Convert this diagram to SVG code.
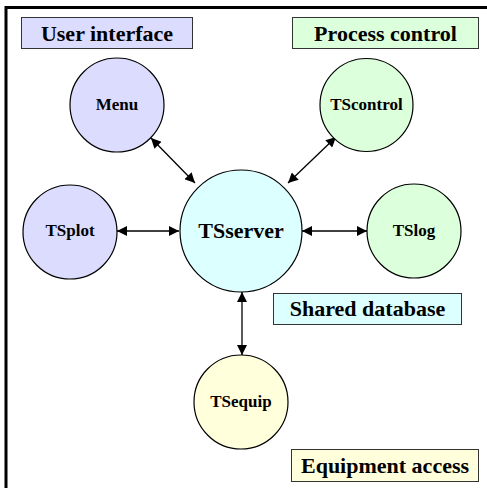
<svg xmlns="http://www.w3.org/2000/svg" width="487" height="488" viewBox="0 0 487 488">
<style>
text{font-family:"Liberation Serif","Times New Roman",serif;font-weight:bold;fill:#000;text-anchor:middle}
.node circle{stroke:#000;stroke-width:1.2}
.lbl rect{stroke:#333;stroke-width:1}
.lbl text{font-size:22px}
.node text{font-size:17px}
.conn line{stroke:#000;stroke-width:1.3;marker-start:url(#ah);marker-end:url(#ah)}
</style>
<defs>
<marker id="ah" viewBox="0 0 10 10" refX="10" refY="5" markerWidth="12" markerHeight="10" markerUnits="userSpaceOnUse" orient="auto-start-reverse">
<path d="M0,0 L10,5 L0,10 z" fill="#000"/>
</marker>
</defs>
<rect width="487" height="488" fill="#fff"/>
<path d="M6,488 V7.5 H487" fill="none" stroke="#000" stroke-width="3"/>
<g id="label-ui" class="lbl"><rect x="21.5" y="17.5" width="171" height="31" fill="#DCDCFF"/><text x="107" y="41">User interface</text></g>
<g id="label-pc" class="lbl"><rect x="292.5" y="17.5" width="186" height="31" fill="#DCFFDC"/><text x="385.5" y="41">Process control</text></g>
<g id="label-db" class="lbl"><rect x="273.5" y="293.5" width="188" height="31" fill="#DCFFFF"/><text x="367.5" y="316">Shared database</text></g>
<g id="label-eq" class="lbl"><rect x="291.5" y="449.5" width="187" height="32" fill="#FFFFDC"/><text x="385" y="473">Equipment access</text></g>
<g class="conn" id="connectors">
<line x1="151" y1="138" x2="195" y2="183"/>
<line x1="336" y1="137" x2="288" y2="183"/>
<line x1="117" y1="231" x2="179" y2="231"/>
<line x1="302" y1="231" x2="367" y2="231"/>
<line x1="242" y1="292" x2="242" y2="355"/>
</g>
<g id="menu" class="node"><circle cx="117" cy="105" r="47" fill="#DCDCFF"/><text x="117" y="110">Menu</text></g>
<g id="tscontrol" class="node"><circle cx="366.5" cy="105" r="46.5" fill="#DCFFDC"/><text x="366.5" y="110">TScontrol</text></g>
<g id="tsplot" class="node"><circle cx="70" cy="232" r="47" fill="#DCDCFF"/><text x="70" y="236">TSplot</text></g>
<g id="tsserver" class="node"><circle cx="241" cy="231" r="61" fill="#DCFFFF"/><text x="241" y="238" style="font-size:22px">TSserver</text></g>
<g id="tslog" class="node"><circle cx="414" cy="231" r="47" fill="#DCFFDC"/><text x="414" y="236">TSlog</text></g>
<g id="tsequip" class="node"><circle cx="241" cy="402" r="47" fill="#FFFFDC"/><text x="241" y="407">TSequip</text></g>
</svg>
